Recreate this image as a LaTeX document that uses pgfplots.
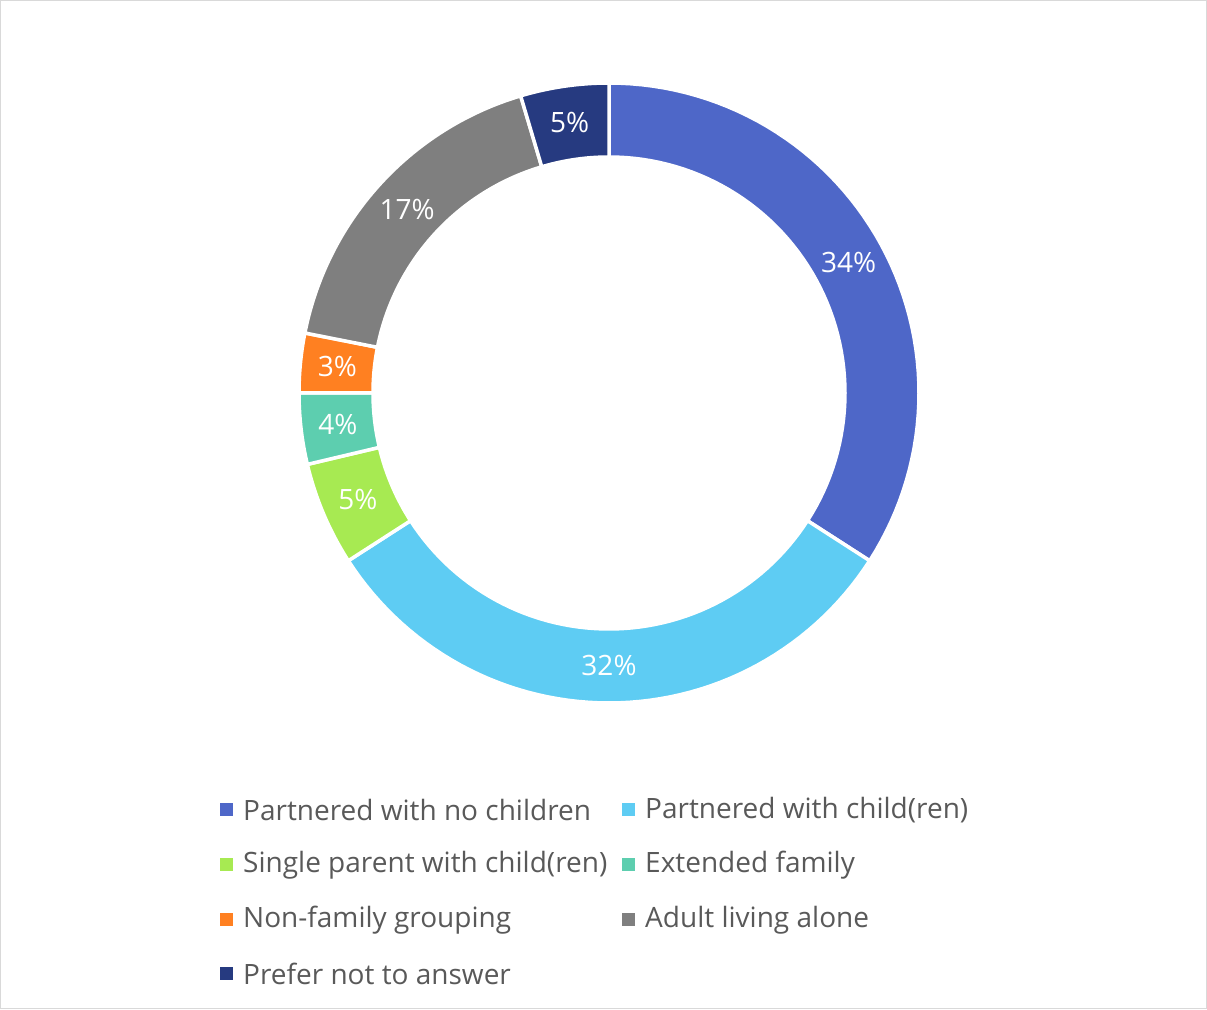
\documentclass[border=0pt]{standalone}
\usepackage{pgfplots}
\pgfplotsset{compat=1.18}
\usepackage{fontspec}
\setmainfont{Open Sans}
\definecolor{cA}{HTML}{4E67C8}
\definecolor{cB}{HTML}{5ECCF3}
\definecolor{cC}{HTML}{A7EA52}
\definecolor{cD}{HTML}{5DCEAF}
\definecolor{cE}{HTML}{FF8021}
\definecolor{cF}{HTML}{7F7F7F}
\definecolor{cG}{HTML}{263A80}
\definecolor{txt}{HTML}{595959}
\definecolor{frame}{HTML}{D9D9D9}
% slice: color, cumulative start %, cumulative end %, label
\newcommand\slice[4]{%
  \addplot[fill=#1, draw=white, line width=3.5pt, domain=0:4, samples=241, variable=\t]
   ({609+((\t<1.5)?310:236)*cos(90-3.6*(#2+(#3-#2)*min(1,max(0,((\t<1.5)?\t:(3-\t))))))},
    {616+((\t<1.5)?310:236)*sin(90-3.6*(#2+(#3-#2)*min(1,max(0,((\t<1.5)?\t:(3-\t))))))}) -- cycle;
  \node[text=white, font=\fontsize{28}{32}\selectfont] at (axis cs:{609+273*cos(90-1.8*(#2+#3))},{616+273*sin(90-1.8*(#2+#3))}) {#4};
}
\newcommand\legitem[4]{%
  \node[fill=#1, minimum size=13pt, inner sep=0pt] at (axis cs:#2,#3) {};
  \node[anchor=west, text=txt, inner sep=0pt, font=\fontsize{28}{32}\selectfont] at (axis cs:#2+16.5,#3) {#4};
}
\begin{document}
\begin{tikzpicture}
\begin{axis}[
  x=1pt, y=1pt,
  xmin=0, xmax=1207, ymin=0, ymax=1009,
  hide axis, clip=false,
  anchor=origin, at={(0,0)},
]
\draw[frame, line width=1pt] (axis cs:0.5,0.5) rectangle (axis cs:1206.5,1008.5);
\slice{cA}{0}{34.1}{34\%}
\slice{cB}{34.1}{65.9}{32\%}
\slice{cC}{65.9}{71.3}{5\%}
\slice{cD}{71.3}{75.0}{4\%}
\slice{cE}{75.0}{78.1}{3\%}
\slice{cF}{78.1}{95.4}{17\%}
\slice{cG}{95.4}{100}{5\%}
\legitem{cA}{226.5}{199}{Partnered with no children}
\legitem{cB}{628.5}{199}{Partnered with child(ren)}
\legitem{cC}{226.5}{144}{Single parent with child(ren)}
\legitem{cD}{628.5}{144}{Extended family}
\legitem{cE}{226.5}{89}{Non-family grouping}
\legitem{cF}{628.5}{89}{Adult living alone}
\legitem{cG}{226.5}{35}{Prefer not to answer}
\end{axis}
\end{tikzpicture}
\end{document}
